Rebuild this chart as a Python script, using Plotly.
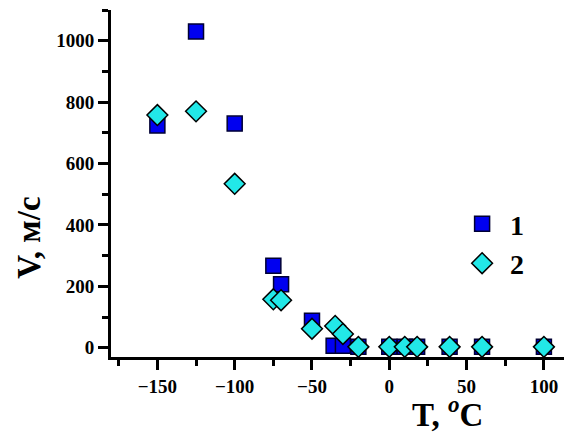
import plotly.graph_objects as go

# Series 1 (squares)
T1 = [-150, -125, -100, -75, -70, -50, -36, -30, -20, 0, 10, 18, 39, 60, 100]
V1 = [724, 1030, 730, 267, 207, 88, 7, 7, 3, 3, 3, 3, 3, 3, 3]
# Series 2 (diamonds)
T2 = [-150, -125, -100, -75, -70, -50, -35, -30, -20, 0, 10, 18, 39, 60, 100]
V2 = [758, 770, 534, 158, 155, 62, 71, 45, 3, 3, 3, 3, 3, 3, 3]
names = ["1", "2"]

FONT = "Liberation Serif"

fig = go.Figure()
fig.add_trace(go.Scatter(
    x=T1, y=V1, mode="markers", name=names[0],
    marker=dict(symbol="square", size=15, color="#0000f0",
                line=dict(color="#000033", width=1.5)),
))
fig.add_trace(go.Scatter(
    x=T2, y=V2, mode="markers", name=names[1],
    marker=dict(symbol="diamond", size=16, color="#22e8e8",
                line=dict(color="#000000", width=1.5)),
))

axis_common = dict(
    showline=True, linecolor="black", linewidth=3,
    ticks="outside", ticklen=10, tickwidth=3, tickcolor="black",
    showgrid=False, zeroline=False,
    tickfont=dict(family=FONT, size=19, color="black", weight="bold"),
)

fig.update_xaxes(
    range=[-180, 113], tickmode="linear", tick0=0, dtick=50,
    minor=dict(ticks="outside", ticklen=6, tickwidth=3, tickcolor="black", dtick=25, tick0=0, showgrid=False),
    **axis_common,
)
fig.update_yaxes(
    range=[-30, 1100], tickmode="linear", tick0=0, dtick=200,
    minor=dict(ticks="outside", ticklen=6, tickwidth=3, tickcolor="black", dtick=100, tick0=0, showgrid=False),
    **axis_common,
)

fig.add_annotation(
    text="T, <i><sup>o</sup></i>C", xref="paper", yref="paper",
    x=0.742, y=-0.159, xanchor="center", yanchor="middle", showarrow=False,
    font=dict(family=FONT, size=33, color="black", weight="bold"),
)
fig.add_annotation(
    text="V, м/с", xref="paper", yref="paper",
    x=-0.18, y=0.345, xanchor="center", yanchor="middle", showarrow=False,
    textangle=-90,
    font=dict(family=FONT, size=33, color="black", weight="bold"),
)

fig.update_layout(
    width=564, height=432,
    margin=dict(l=111, r=0, t=10, b=75),
    paper_bgcolor="white", plot_bgcolor="white",
    showlegend=True,
    legend=dict(
        x=0.7574, y=0.455, xanchor="left", yanchor="top",
        bgcolor="rgba(0,0,0,0)",
        font=dict(family=FONT, size=28, color="black", weight="bold"),
        itemwidth=46, tracegroupgap=0,
    ),
)

fig.write_html("out.html")
